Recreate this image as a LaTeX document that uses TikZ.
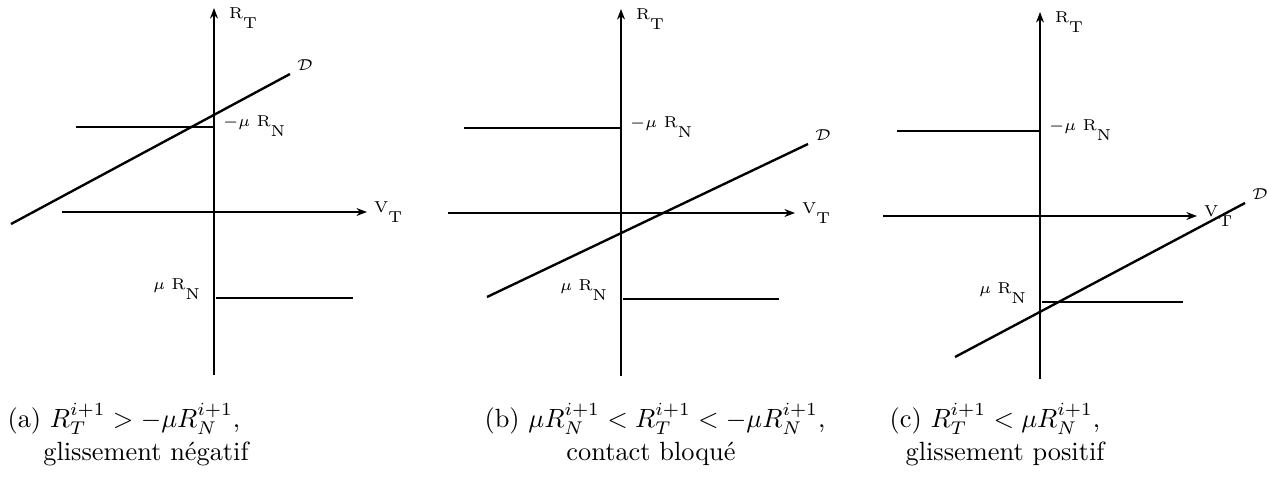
\documentclass[tikz,border=0pt]{standalone}
\usepackage{amsmath,amssymb}
\usepackage{tikz}
\usetikzlibrary{arrows.meta,positioning}

\newcommand{\rsub}[2]{#1\raisebox{-3.5pt}{#2}}

\tikzset{
  axis/.style={line width=0.7pt,-{Stealth[length=4pt,width=3pt]}},
  bound/.style={line width=0.55pt},
  droite/.style={line width=0.9pt},
  lbl/.style={font=\fontsize{6}{7}\selectfont,inner sep=1pt},
  capt/.style={anchor=base west,inner sep=0pt},
  capl/.style={anchor=base,inner sep=0pt}
}

\begin{document}
\begin{tikzpicture}[x=0.01334cm,y=0.01334cm]
  \useasboundingbox (0,0) rectangle (1267,476);
  % one panel per case: name/origin/axis ends/line D
  \foreach \p/\ox/\oy/\xl/\xr/\dxa/\dya/\dxb/\dyb in {
      a/214/264/-152/153/-203/-12/76/138,
      b/621/263/-173/174/-134/-84/187/69,
      c/1040/260/-157/157/-85/-141/205/13}{
    \begin{scope}[shift={(\ox,\oy)}]
      \coordinate (top\p) at (0,204);
      \coordinate (bot\p) at (0,-163);
      \coordinate (left\p) at (\xl,0);
      \coordinate (right\p) at (\xr,0);
      \coordinate (mhL\p) at ({0.91*\xl},85);
      \coordinate (mhR\p) at (0,85);
      \coordinate (mbL\p) at (2,-86);
      \coordinate (mbR\p) at ({0.91*\xr},-86);
      \coordinate (dS\p) at (\dxa,\dya);
      \coordinate (dE\p) at (\dxb,\dyb);
      \draw[axis] (bot\p) -- (top\p);
      \draw[axis] (left\p) -- (right\p);
      \draw[bound] (mhL\p) -- (mhR\p);
      \draw[bound] (mbL\p) -- (mbR\p);
      \draw[droite] (dS\p) -- (dE\p);
      \node[lbl] (RT\p) at (29,194) {\rsub{R}{T}};
      \node[lbl,right=1.5pt of right\p] (VT\p) {\rsub{V}{T}};
      \node[lbl,anchor=west] (muh\p) at (6,86) {$-\mu$ \rsub{R}{N}};
      \node[lbl,anchor=east] (mub\p) at (-11,-77) {$\mu$\ \rsub{R}{N}};
      \node[lbl,above right=0pt and 1.5pt of dE\p] (D\p) {$\mathcal{D}$};
    \end{scope}
  }
  % captions
  \node[capt] (capa) at (7,49) {(a) $R_T^{i+1} > -\mu R_N^{i+1}$,};
  \node[capl] (capa2) at (146,16) {glissement négatif};
  \node[capt] (capb) at (484,49) {(b) $\mu R_N^{i+1} < R_T^{i+1} < -\mu R_N^{i+1}$,};
  \node[capl] (capb2) at (651,16) {contact bloqué};
  \node[capt] (capc) at (889,49) {(c) $R_T^{i+1} < \mu R_N^{i+1}$,};
  \node[capl] (capc2) at (1005,16) {glissement positif};
\end{tikzpicture}
\end{document}
